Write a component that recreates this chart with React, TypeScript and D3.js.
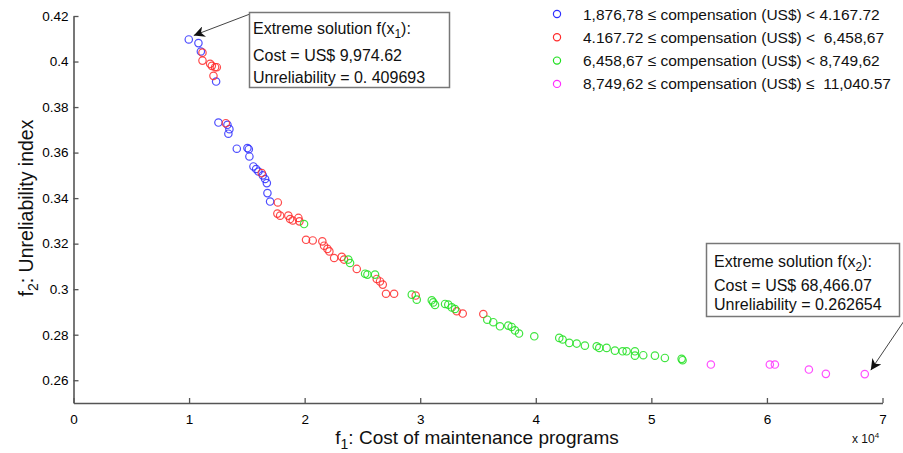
import React, { useEffect, useRef } from "react";
import * as d3 from "d3";

// tick values
const xTicks = [0, 10000, 20000, 30000, 40000, 50000, 60000, 70000];
const yTicks = [0.26, 0.28, 0.3, 0.32, 0.34, 0.36, 0.38, 0.4, 0.42];

// [cost (US$), unreliability index] per compensation range
const group1 = [
  [9975, 0.4097], [10810, 0.4081], [11020, 0.4044], [12340, 0.3912],
  [12540, 0.3732], [13320, 0.3722], [13490, 0.3703], [13400, 0.3683],
  [14130, 0.3617], [15050, 0.362], [15170, 0.3615], [15220, 0.3583],
  [15570, 0.3539], [15800, 0.3528], [16000, 0.3517], [16380, 0.35],
  [16580, 0.3484], [16730, 0.3466], [16780, 0.3422], [17010, 0.3385],
];
const group2 = [
  [11160, 0.4039], [11160, 0.4004], [11820, 0.399], [11970, 0.3981],
  [12250, 0.3975], [12400, 0.3975], [12110, 0.3937], [13180, 0.3729],
  [16290, 0.351], [17680, 0.3381], [17640, 0.3332], [17880, 0.3323],
  [18590, 0.3323], [18740, 0.3308], [18970, 0.3302], [19460, 0.3313],
  [19550, 0.3298], [20120, 0.3217], [20700, 0.3214], [21530, 0.321],
  [21680, 0.3191], [21970, 0.3177], [22140, 0.3166], [22550, 0.3137],
  [23210, 0.3142], [23410, 0.313], [24510, 0.3089], [26240, 0.3045],
  [26520, 0.3034], [26760, 0.302], [27040, 0.298], [27740, 0.298],
  [29610, 0.2972], [33160, 0.2903], [33680, 0.2893], [35460, 0.2891],
];
const group3 = [
  [19950, 0.3286], [23780, 0.313], [23930, 0.3115], [25230, 0.3068],
  [25430, 0.3064], [26090, 0.3064], [29270, 0.2976], [29700, 0.2954],
  [31000, 0.2951], [31130, 0.2942], [31280, 0.2931], [32150, 0.2935],
  [32430, 0.2932], [32730, 0.292], [33010, 0.2913], [35800, 0.2866],
  [36320, 0.2855], [36900, 0.2837], [37620, 0.284], [37910, 0.2834],
  [38200, 0.2819], [38550, 0.2805], [39870, 0.2793], [42030, 0.2786],
  [42320, 0.2779], [42900, 0.2764], [43540, 0.2761], [44250, 0.2752],
  [45270, 0.2749], [45490, 0.2742], [46130, 0.2742], [46850, 0.273],
  [47510, 0.2727], [47860, 0.2727], [48580, 0.2727], [48580, 0.2708],
  [49300, 0.271], [50310, 0.2708], [51170, 0.2698], [52620, 0.2694],
  [52700, 0.2688],
];
const group4 = [
  [55150, 0.2669], [60250, 0.2669], [60690, 0.2669], [63630, 0.2647],
  [65100, 0.2628], [68466, 0.2627],
];

const groups = [group1, group2, group3, group4];
const groupColors = ["#2f2fff", "#ff2b2b", "#1fe01f", "#ff2eff"];
const legendLabels = [
  "1,876,78 \u2264 compensation (US$) < 4.167.72",
  "4.167.72 \u2264 compensation (US$) <  6,458,67",
  "6,458,67 \u2264 compensation (US$) < 8,749,62",
  "8,749,62 \u2264 compensation (US$) \u2264  11,040.57",
];

const extreme1 = [9974.62, 0.409693];
const extreme2 = [68466.07, 0.262654];
const box1Lines = ["Cost = US$ 9,974.62", "Unreliability = 0. 409693"];
const box2Lines = ["Cost = US$ 68,466.07", "Unreliability = 0.262654"];

const FONT = "'Liberation Sans', Arial, sans-serif";

const drawChart = (node: SVGSVGElement) => {
  const width = 903;
  const height = 453;

  const svg = d3.select(node);
  svg.selectAll("*").remove();
  svg.attr("width", width).attr("height", height).style("font-family", FONT);

  svg.append("rect").attr("width", width).attr("height", height).attr("fill", "#fff");

  // arrow head
  svg.append("defs").append("marker")
    .attr("id", "arrowHead")
    .attr("viewBox", "0 0 10 10")
    .attr("refX", 10).attr("refY", 5)
    .attr("markerWidth", 11).attr("markerHeight", 11)
    .attr("markerUnits", "userSpaceOnUse")
    .attr("orient", "auto")
    .append("path")
    .attr("d", "M0,0 L10,5 L0,10 L3,5 Z")
    .attr("fill", "#111");

  // scales
  const x = d3.scaleLinear().domain([0, 70000]).range([73.5, 882.5]);
  const y = d3.scaleLinear().domain([0.25, 0.42]).range([403, 16]);

  // x axis
  const xAxis = svg.append("g")
    .attr("transform", "translate(0,403)")
    .call(d3.axisBottom(x).tickValues(xTicks).tickSizeInner(-5).tickSizeOuter(0).tickPadding(11)
      .tickFormat((d) => String(+d / 10000)));
  // y axis
  const yAxis = svg.append("g")
    .attr("transform", "translate(73.5,0)")
    .call(d3.axisLeft(y).tickValues(yTicks).tickSizeInner(-5).tickSizeOuter(0).tickPadding(5)
      .tickFormat((d) => String(+(+d).toFixed(2))));

  [xAxis, yAxis].forEach((ax) => {
    ax.select(".domain").attr("stroke", "#555").attr("stroke-width", 1.6);
    ax.selectAll(".tick line").attr("stroke", "#555").attr("stroke-width", 1.3);
    ax.selectAll(".tick text")
      .attr("fill", "#000")
      .style("font-family", FONT)
      .style("font-size", "13.5px");
  });

  // x10^4 note
  const note = svg.append("text").attr("x", 852).attr("y", 443)
    .style("font-size", "12px").attr("fill", "#111");
  note.append("tspan").text("x 10");
  note.append("tspan").attr("dy", -5).style("font-size", "8px").text("4");

  // axis titles
  const xTitle = svg.append("text")
    .attr("x", 477).attr("y", 444)
    .attr("text-anchor", "middle")
    .style("font-size", "19px").attr("fill", "#111");
  xTitle.append("tspan").text("f");
  xTitle.append("tspan").attr("dy", 5).style("font-size", "14px").text("1");
  xTitle.append("tspan").attr("dy", -5).text(": Cost of maintenance programs");

  const yTitle = svg.append("text")
    .attr("transform", "translate(33,208) rotate(-90)")
    .attr("text-anchor", "middle")
    .style("font-size", "19.5px").attr("fill", "#111");
  yTitle.append("tspan").text("f");
  yTitle.append("tspan").attr("dy", 5).style("font-size", "14px").text("2");
  yTitle.append("tspan").attr("dy", -5).text(": Unreliability index");

  // points
  groups.forEach((pts, i) => {
    svg.append("g")
      .selectAll("circle")
      .data(pts)
      .enter().append("circle")
      .attr("cx", (d) => x(d[0]))
      .attr("cy", (d) => y(d[1]))
      .attr("r", 3.7)
      .attr("fill", "none")
      .attr("stroke", groupColors[i])
      .attr("stroke-width", 1.2)
      .attr("stroke-opacity", 0.85);
  });

  // legend
  const legend = svg.append("g");
  legendLabels.forEach((label, i) => {
    const ly = 14 + i * 23.3;
    legend.append("circle").attr("cx", 557).attr("cy", ly).attr("r", 3.6)
      .attr("fill", "none").attr("stroke", groupColors[i]).attr("stroke-width", 1.2);
    legend.append("text").attr("x", 583).attr("y", ly + 5.5)
      .style("font-size", "15.5px").style("white-space", "pre")
      .attr("fill", "#111").text(label);
  });

  // annotation 1
  const e1x = x(extreme1[0]);
  const e1y = y(extreme1[1]);
  svg.append("line")
    .attr("x1", 250).attr("y1", 14)
    .attr("x2", e1x + 5).attr("y2", e1y - 4)
    .attr("stroke", "#444").attr("stroke-width", 1)
    .attr("marker-end", "url(#arrowHead)");
  svg.append("rect").attr("x", 249.5).attr("y", 12.5).attr("width", 200).attr("height", 75)
    .attr("fill", "#fff").attr("stroke", "#777").attr("stroke-width", 1.5);
  const t1 = svg.append("text").attr("x", 253).attr("y", 33.5).style("font-size", "16px").attr("fill", "#111");
  t1.append("tspan").text("Extreme solution f(x");
  t1.append("tspan").attr("dy", 4).style("font-size", "12px").text("1");
  t1.append("tspan").attr("dy", -4).text("):");
  box1Lines.forEach((l, i) => {
    svg.append("text").attr("x", 253).attr("y", 60.5 + i * 22)
      .style("font-size", "16px").attr("fill", "#111").text(l);
  });

  // annotation 2
  const e2x = x(extreme2[0]);
  const e2y = y(extreme2[1]);
  svg.append("line")
    .attr("x1", 904).attr("y1", 321)
    .attr("x2", e2x + 6).attr("y2", e2y - 4)
    .attr("stroke", "#444").attr("stroke-width", 1)
    .attr("marker-end", "url(#arrowHead)");
  svg.append("rect").attr("x", 706.5).attr("y", 243.5).attr("width", 193).attr("height", 73)
    .attr("fill", "#fff").attr("stroke", "#777").attr("stroke-width", 1.5);
  const t2 = svg.append("text").attr("x", 714).attr("y", 266.5).style("font-size", "16px").attr("fill", "#111");
  t2.append("tspan").text("Extreme solution f(x");
  t2.append("tspan").attr("dy", 4).style("font-size", "12px").text("2");
  t2.append("tspan").attr("dy", -4).text("):");
  box2Lines.forEach((l, i) => {
    svg.append("text").attr("x", 714).attr("y", 291 + i * 19)
      .style("font-size", "16px").attr("fill", "#111").text(l);
  });
};

const App = () => {
  const ref = useRef<SVGSVGElement>(null);

  useEffect(() => {
    document.body.style.margin = "0";
    if (ref.current) drawChart(ref.current);
  }, []);

  return <svg ref={ref} style={{ display: "block" }} />;
};

export default App;
